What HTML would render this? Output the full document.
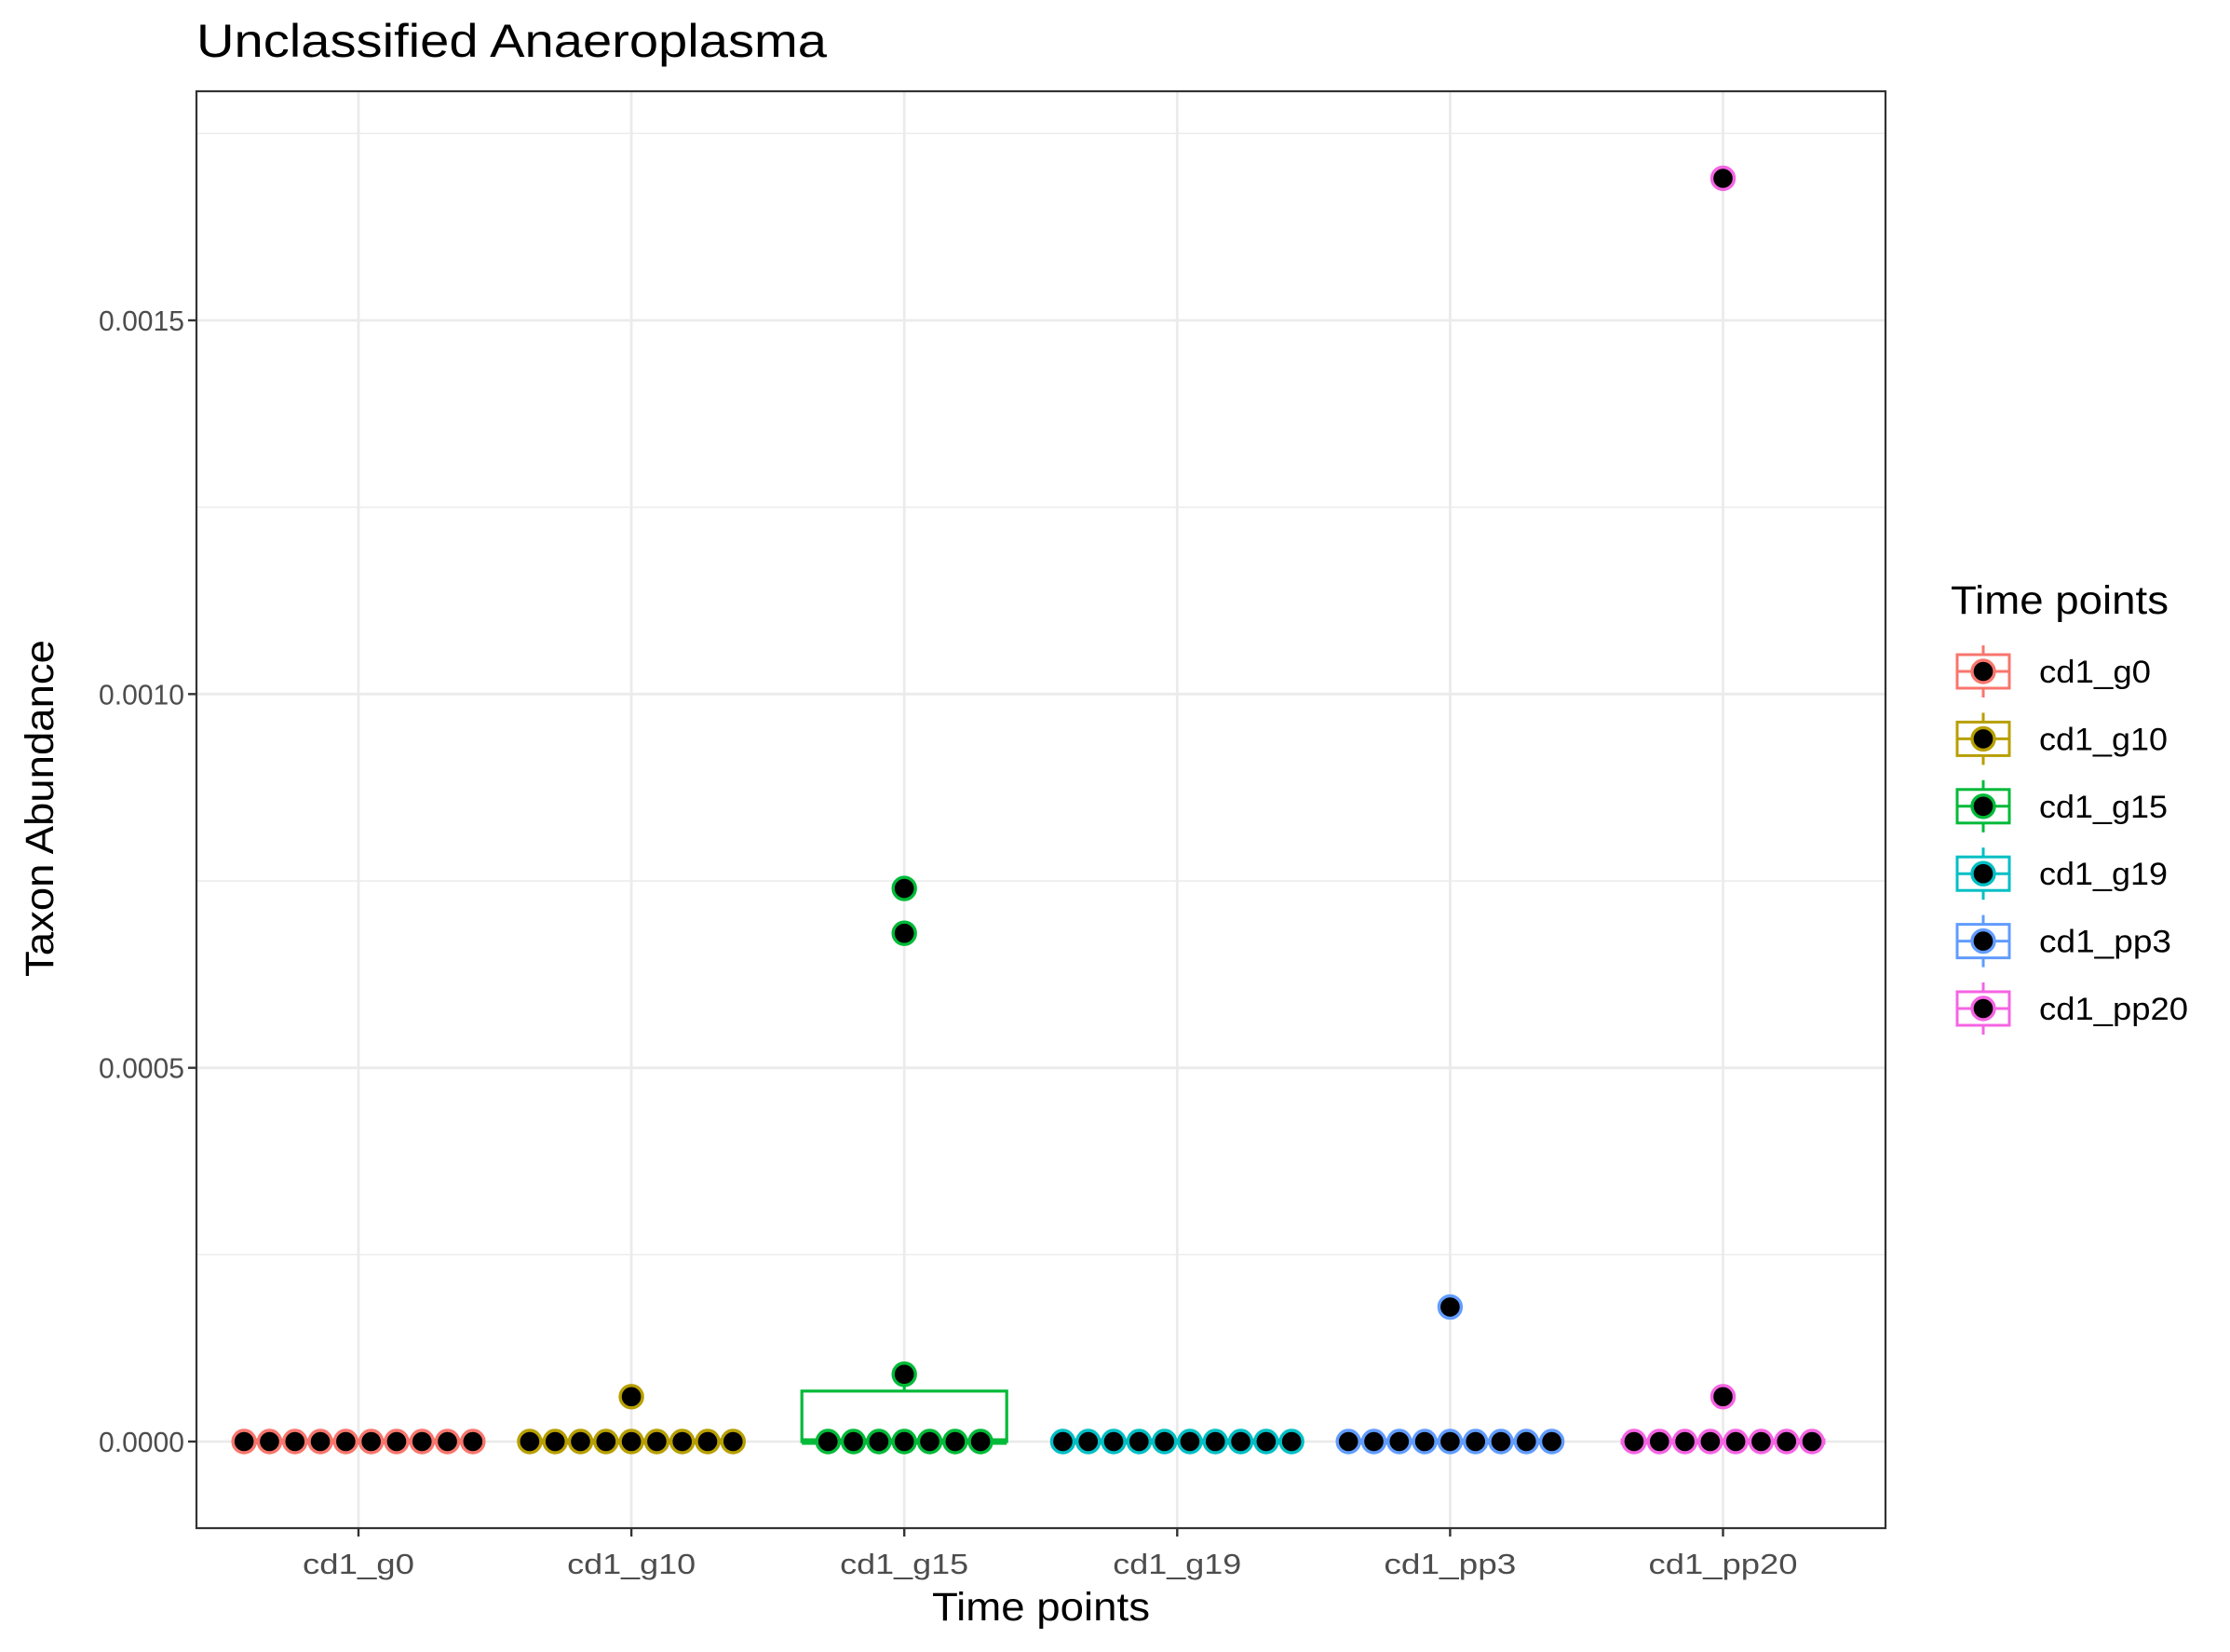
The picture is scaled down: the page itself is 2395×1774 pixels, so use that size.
<!DOCTYPE html>
<html><head><meta charset="utf-8"><style>
html,body{margin:0;padding:0;background:#fff;}
svg{display:block;font-family:"Liberation Sans",Arial,sans-serif;}
</style></head><body>
<svg id="chart" width="2395" height="1774" viewBox="0 0 2395 1774" xmlns="http://www.w3.org/2000/svg">
<rect x="0" y="0" width="2395" height="1774" fill="#fff"/>
<text x="211" y="61" font-size="50" fill="#000" textLength="677" lengthAdjust="spacingAndGlyphs">Unclassified  Anaeroplasma</text>
<g id="grid"></g>
<g id="boxes"></g>
<g id="dots"></g>
<rect x="211" y="98" width="1814" height="1543" fill="none" stroke="#333" stroke-width="2.2"/>
<g id="axes"></g>
<text x="1118" y="1740" font-size="43" text-anchor="middle" fill="#000" textLength="234" lengthAdjust="spacingAndGlyphs">Time points</text>
<text transform="translate(57,868) rotate(-90)" font-size="43" text-anchor="middle" fill="#000" textLength="362" lengthAdjust="spacingAndGlyphs">Taxon Abundance</text>
<g id="legend">
<text x="2095" y="659" font-size="43" fill="#000" textLength="234" lengthAdjust="spacingAndGlyphs">Time points</text>
</g>
</svg>
<script>
const categories = ["cd1_g0","cd1_g10","cd1_g15","cd1_g19","cd1_pp3","cd1_pp20"];
const colors = ["#F8766D","#B79F00","#00BA38","#00BFC4","#619CFF","#F564E3"];
const zeroCounts = [10, 9, 7, 10, 9, 8];
const extraValues = [[], [0.00006], [0.00009, 0.00068, 0.00074], [], [0.00018], [0.00006, 0.00169]];
const yTicks = [0, 0.0005, 0.0010, 0.0015];
const yTickLabels = ["0.0000","0.0005","0.0010","0.0015"];
const yMinor = [0.00025, 0.00075, 0.00125, 0.00175];

const NS = "http://www.w3.org/2000/svg";
const PL = 211, PR = 2025, PT = 98, PB = 1641;
const Y0 = 1548, YPER = (1548 - 344) / 0.0015;
function yS(v){ return Y0 - v * YPER; }
const X0 = 385, XSTEP = 293.1;
function xS(i){ return X0 + i * XSTEP; }
function mk(tag, attrs, parent){ const e = document.createElementNS(NS, tag); for (const k in attrs) e.setAttribute(k, attrs[k]); parent.appendChild(e); return e; }

const grid = document.getElementById('grid');
yMinor.forEach(v => {
  const l = mk('line', {x1:PL, x2:PR, y1:yS(v), y2:yS(v), stroke:'#ebebeb', 'stroke-width':1.4}, grid);
  
  
});
yTicks.forEach(v => {
  const l = mk('line', {x1:PL, x2:PR, y1:yS(v), y2:yS(v), stroke:'#ebebeb', 'stroke-width':2.8}, grid);
  
  
});
categories.forEach((c, i) => {
  const l = mk('line', {x1:xS(i), x2:xS(i), y1:PT, y2:PB, stroke:'#ebebeb', 'stroke-width':2.8}, grid);
  
  
});

function quantile(arr, p){ const s = arr.slice().sort((a,b)=>a-b); const h = (s.length-1)*p; const lo = Math.floor(h); const hi = Math.ceil(h); return s[lo] + (h-lo)*(s[hi]-s[lo]); }

const boxes = document.getElementById('boxes');
const dots = document.getElementById('dots');
const BW = 220, SP = 27.3, R = 12;
categories.forEach((c, i) => {
  const vals = Array(zeroCounts[i]).fill(0).concat(extraValues[i]);
  const q1 = quantile(vals, 0.25), q2 = quantile(vals, 0.5), q3 = quantile(vals, 0.75), iqr = q3 - q1;
  const inr = vals.filter(v => v >= q1 - 1.5*iqr && v <= q3 + 1.5*iqr);
  const wl = Math.min(...inr), wh = Math.max(...inr);
  const cx = xS(i);
  const g = mk('g', {}, boxes);
  
  
  const w1 = mk('line', {x1:cx, x2:cx, y1:yS(q3), y2:yS(wh), stroke:colors[i], 'stroke-width':3}, g);
  
  
  const w2 = mk('line', {x1:cx, x2:cx, y1:yS(q1), y2:yS(wl), stroke:colors[i], 'stroke-width':3}, g);
  
  
  const b = mk('rect', {x:cx-BW/2, y:yS(q3), width:BW, height:Math.max(0, yS(q1)-yS(q3)), fill:'#fff', stroke:colors[i], 'stroke-width':3.2}, g);
  
  
  const m = mk('line', {x1:cx-BW/2, x2:cx+BW/2, y1:yS(q2), y2:yS(q2), stroke:colors[i], 'stroke-width':7}, g);
  
  
  const n = zeroCounts[i];
  for (let k = 0; k < n; k++) {
    const d = mk('circle', {cx:cx + (k-(n-1)/2)*SP, cy:yS(0), r:R, fill:'#000', stroke:colors[i], 'stroke-width':3.4}, dots);
    
    
  }
  extraValues[i].forEach(v => {
    const d = mk('circle', {cx:cx, cy:yS(v), r:R, fill:'#000', stroke:colors[i], 'stroke-width':3.4}, dots);
    
    
  });
});

const axes = document.getElementById('axes');
yTicks.forEach((v, j) => {
  const t = mk('line', {x1:PL-9, x2:PL, y1:yS(v), y2:yS(v), stroke:'#333', 'stroke-width':2.4}, axes);
  
  
  const tx = mk('text', {x:PL-13, y:yS(v)+11, 'font-size':31, 'text-anchor':'end', fill:'#4d4d4d', textLength:92, lengthAdjust:'spacingAndGlyphs'}, axes);
  tx.textContent = yTickLabels[j];
  
  
});
const xLabelW = [120, 138, 138, 138, 142, 160];
categories.forEach((c, i) => {
  const t = mk('line', {x1:xS(i), x2:xS(i), y1:PB, y2:PB+9, stroke:'#333', 'stroke-width':2.4}, axes);
  
  
  const tx = mk('text', {x:xS(i), y:1690, 'font-size':31, 'text-anchor':'middle', fill:'#4d4d4d', textLength:xLabelW[i], lengthAdjust:'spacingAndGlyphs'}, axes);
  tx.textContent = c;
  
  
});

const legend = document.getElementById('legend');
const LX = 2130, LY0 = 721, LDY = 72.4;
categories.forEach((c, i) => {
  const cy = LY0 + i*LDY;
  const g = mk('g', {}, legend);
  
  
  mk('line', {x1:LX, x2:LX, y1:cy-28, y2:cy+28, stroke:colors[i], 'stroke-width':3}, g);
  mk('rect', {x:LX-28, y:cy-18, width:56, height:36, fill:'#fff', stroke:colors[i], 'stroke-width':3}, g);
  mk('line', {x1:LX-28, x2:LX+28, y1:cy, y2:cy, stroke:colors[i], 'stroke-width':3}, g);
  mk('circle', {cx:LX, cy:cy, r:R, fill:'#000', stroke:colors[i], 'stroke-width':3.4}, g);
  const tx = mk('text', {x:2190, y:cy+12, 'font-size':34, fill:'#000', textLength:xLabelW[i], lengthAdjust:'spacingAndGlyphs'}, g);
  tx.textContent = c;
  
  
});
</script>
</body></html>
